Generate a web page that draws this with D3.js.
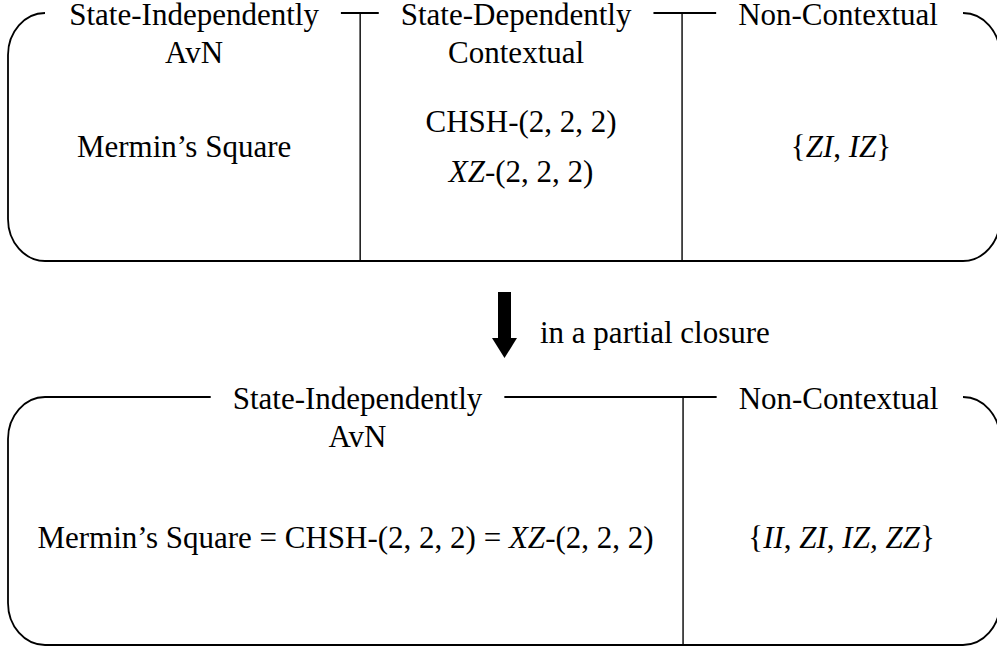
<!DOCTYPE html>
<html>
<head>
<meta charset="utf-8">
<script src="https://cdn.jsdelivr.net/npm/d3@7"></script>
<style>
  body { margin: 0; background: #fff; }
  svg { display: block; }
  text { font-family: "Liberation Serif", "Times New Roman", serif; fill: #000; }
</style>
</head>
<body>
<div id="chart"></div>
<script>
// column titles (each one split over lines)
var topTitles = [
    ["State-Independently", "AvN"],
    ["State-Dependently", "Contextual"],
    ["Non-Contextual"]
];
// content of each column: list of lines, each line a list of [text, italic]
var topEntries = [
    [[["Mermin\u2019s Square", false]]],
    [[["CHSH-(2, 2, 2)", false]], [["XZ", true], ["-(2, 2, 2)", false]]],
    [[["{", false], ["ZI", true], [", ", false], ["IZ", true], ["}", false]]]
];
var bottomTitles = [
    ["State-Independently", "AvN"],
    ["Non-Contextual"]
];
var bottomEntries = [
    [[["Mermin\u2019s Square = CHSH-(2, 2, 2) = ", false], ["XZ", true], ["-(2, 2, 2)", false]]],
    [[["{", false], ["II", true], [", ", false], ["ZI", true], [", ", false], ["IZ, ZZ", true], ["}", false]]]
];
// column boundaries (0..1 across the box)
var topBreaks = [0, 0.355, 0.6795, 1];
var bottomBreaks = [0, 0.6805, 1];
var arrowLabel = "in a partial closure";

var width = 997,
    height = 646,
    fontSize = 31,
    lineGap = 38,
    rx = 37,
    ry = 42,
    pad = 22;

var svg = d3.select("#chart")
    .append("svg")
    .attr("width", width)
    .attr("height", height);

var x = d3.scaleLinear().domain([0, 1]).range([8, 1000]);

function drawPanel(opts) {
    var g = svg.append("g");
    var breaks = opts.breaks, y0 = opts.y0, y1 = opts.y1;
    var mids = d3.pairs(breaks).map(function(p) { return (x(p[0]) + x(p[1])) / 2; });
    var titleX = mids.map(function(m, i) { return m + opts.titleShift[i]; });

    // titles
    var widths = [];
    opts.titles.forEach(function(lines, i) {
        var t = g.append("text")
            .attr("text-anchor", "middle")
            .style("font-size", fontSize + "px");
        lines.forEach(function(line, j) {
            t.append("tspan")
                .attr("x", titleX[i])
                .attr("y", y0 + 12 + j * lineGap)
                .text(line);
        });
        widths.push(t.select("tspan").node().getComputedTextLength());
    });

    var k = 0.55;
    var L = x(0), R = x(1);
    var p = d3.path();
    // top left corner (and optional stub up to the first title)
    p.moveTo(L, y0 + ry);
    p.bezierCurveTo(L, y0 + ry * (1 - k), L + rx * (1 - k), y0, L + rx, y0);
    if (opts.leftStub) {
        p.lineTo(titleX[0] - widths[0] / 2 - pad, y0);
    }
    // short top pieces between titles, crossing each divider
    for (var i = 1; i < breaks.length - 1; i++) {
        p.moveTo(titleX[i - 1] + widths[i - 1] / 2 + pad, y0);
        p.lineTo(titleX[i] - widths[i] / 2 - pad, y0);
    }
    // top right corner, right side, bottom, bottom left corner
    p.moveTo(R - rx, y0);
    p.bezierCurveTo(R - rx * (1 - k), y0, R, y0 + ry * (1 - k), R, y0 + ry);
    p.lineTo(R, y1 - ry);
    p.bezierCurveTo(R, y1 - ry * (1 - k), R - rx * (1 - k), y1, R - rx, y1);
    p.lineTo(L + rx, y1);
    p.bezierCurveTo(L + rx * (1 - k), y1, L, y1 - ry * (1 - k), L, y1 - ry);
    p.lineTo(L, y0 + ry);
    g.append("path")
        .attr("d", p.toString())
        .attr("fill", "none")
        .attr("stroke", "#000")
        .attr("stroke-width", 1.8);

    // dividers
    g.selectAll("line.div")
        .data(breaks.slice(1, -1))
        .enter().append("line")
        .attr("class", "div")
        .attr("x1", function(d) { return x(d); })
        .attr("x2", function(d) { return x(d); })
        .attr("y1", y0)
        .attr("y2", y1)
        .attr("stroke", "#000")
        .attr("stroke-width", 1.4);

    // entries
    opts.entries.forEach(function(lines, i) {
        var n = lines.length;
        lines.forEach(function(segs, j) {
            var t = g.append("text")
                .attr("text-anchor", "middle")
                .attr("x", mids[i])
                .attr("y", opts.contentY + (j - (n - 1) / 2) * opts.contentGap)
                .style("font-size", fontSize + "px");
            segs.forEach(function(s) {
                t.append("tspan")
                    .style("font-style", s[1] ? "italic" : "normal")
                    .text(s[0]);
            });
        });
    });
}

drawPanel({
    titles: topTitles, entries: topEntries, breaks: topBreaks,
    titleShift: [10, -5, -3],
    y0: 13, y1: 261, contentY: 157, contentGap: 50, leftStub: false
});
drawPanel({
    titles: bottomTitles, entries: bottomEntries, breaks: bottomBreaks,
    titleShift: [12, -3],
    y0: 397, y1: 645, contentY: 548, contentGap: 50, leftStub: true
});

// arrow
var arrow = svg.append("g");
arrow.append("rect")
    .attr("x", 498).attr("y", 292)
    .attr("width", 13).attr("height", 48)
    .attr("fill", "#000");
arrow.append("path")
    .attr("d", d3.line()([[492, 338], [517, 338], [504.5, 358]]) + "Z")
    .attr("fill", "#000");
arrow.append("text")
    .attr("x", 540)
    .attr("y", 343)
    .style("font-size", fontSize + "px")
    .text(arrowLabel);
</script>
</body>
</html>
